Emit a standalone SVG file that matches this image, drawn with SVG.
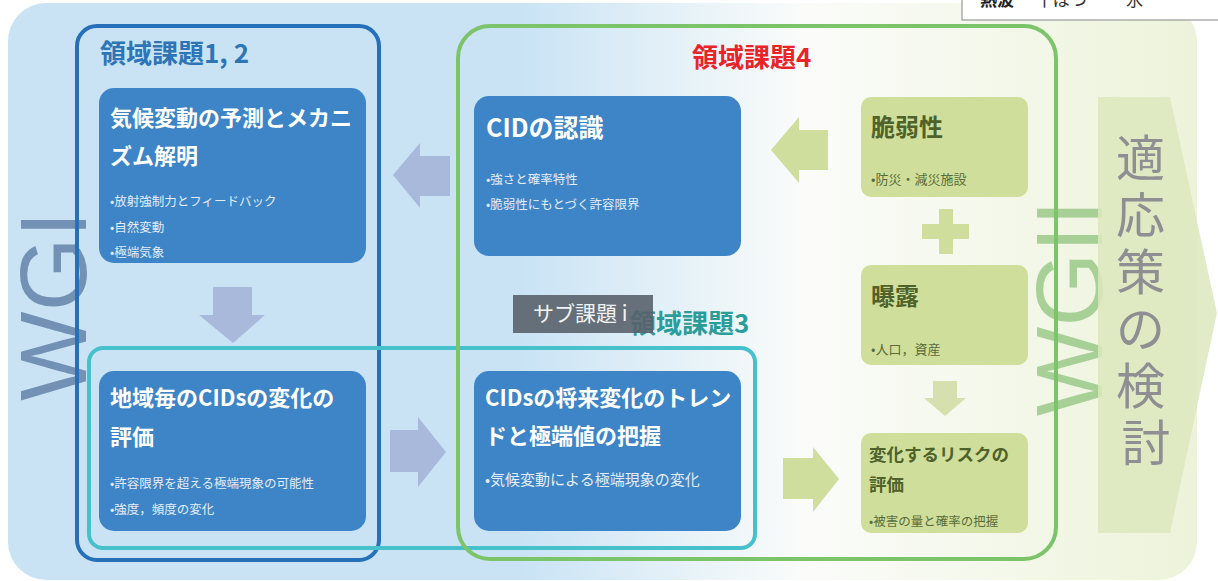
<svg xmlns="http://www.w3.org/2000/svg" width="1218" height="581" viewBox="0 0 1218 581">
<defs>
<linearGradient id="bg" x1="8" y1="0" x2="1197" y2="0" gradientUnits="userSpaceOnUse">
<stop offset="0" stop-color="#c9e3f5"/>
<stop offset="0.43" stop-color="#c9e3f5"/>
<stop offset="0.67" stop-color="#fbfcfa"/>
<stop offset="1" stop-color="#edf3da"/>
</linearGradient>
<style>
.jp{font-family:"Noto Sans CJK JP","Noto Sans",sans-serif}
.bnode{fill:#3d85c6}
.gnode{fill:#cfdf9b}
.btitle{font-family:"Noto Sans CJK JP",sans-serif;font-weight:bold;font-size:22px;fill:#ffffff}
.bbul{font-family:"Noto Sans CJK JP",sans-serif;font-size:12.5px;fill:#e4ecf7}
.gtitle{font-family:"Noto Sans CJK JP",sans-serif;font-weight:bold;fill:#4f6229}
.gbul{font-family:"Noto Sans CJK JP",sans-serif;font-size:13px;fill:#5a6b38}
.area{font-family:"Noto Sans CJK JP",sans-serif;font-weight:bold;font-size:26px}
.barrow{fill:#a9b9dc}
.garrow{fill:#cfdd9d}
</style>
</defs>

<rect x="8" y="3" width="1189" height="577" rx="38" fill="url(#bg)"/>

<g id="table-fragment">
<rect x="962" y="-10" width="270" height="30" fill="#ffffff" stroke="#9a9a9a" stroke-width="1.2"/>
<text x="980" y="6" class="jp" font-size="17" font-weight="bold" fill="#222">熱波</text>
<text x="1036" y="6" class="jp" font-size="17" fill="#333">干ばつ</text>
<text x="1126" y="6" class="jp" font-size="17" fill="#333">氷</text>
</g>

<text transform="translate(86,306) rotate(-90)" text-anchor="middle" font-family="Liberation Sans, Arial, sans-serif" font-size="95" fill="#7391b4">WGI</text>
<text transform="translate(1102,308) rotate(-90)" text-anchor="middle" font-family="Liberation Sans, Arial, sans-serif" font-size="95" fill="#8fc47d" opacity="0.75">WGII</text>

<g id="adaptation">
<polygon points="1098,97 1170,97 1217,313 1170,533 1098,533" fill="#dce8bd" opacity="0.85"/>
<text class="jp" font-size="49" fill="#8e8e93" text-anchor="middle">
<tspan x="1146" y="176">適</tspan>
<tspan x="1146" y="233">応</tspan>
<tspan x="1146" y="290">策</tspan>
<tspan x="1146" y="347">の</tspan>
<tspan x="1146" y="404">検</tspan>
<tspan x="1146" y="461">討</tspan>
</text>
</g>

<g id="area12">
<rect x="77" y="26" width="302" height="534" rx="20" fill="none" stroke="#2570b8" stroke-width="4"/>
<text x="100" y="63" class="area" fill="#2e75b6">領域課題1, 2</text>
</g>

<g id="area3">
<rect x="89" y="348" width="666" height="200" rx="14" fill="none" stroke="#46c1cc" stroke-width="4"/>
<text x="630" y="333" class="area" fill="#2a9d9a">領域課題3</text>
</g>

<g id="area4">
<rect x="458" y="26" width="598" height="533" rx="32" fill="none" stroke="#7cc46a" stroke-width="4"/>
<text x="692" y="67" class="area" fill="#e82429">領域課題4</text>
</g>

<g id="subtask">
<rect x="513" y="295" width="140" height="38" fill="#59626b" opacity="0.9"/>
<text x="533" y="321" class="jp" font-size="21" fill="#f2f2f2">サブ課題 i</text>
</g>

<g id="node-prediction">
<rect x="99" y="88" width="267" height="175" rx="15" class="bnode"/>
<text x="110" y="126" class="btitle">気候変動の予測とメカニ</text>
<text x="110" y="164" class="btitle">ズム解明</text>
<text x="110" y="206" class="bbul">•放射強制力とフィードバック</text>
<text x="110" y="232" class="bbul">•自然変動</text>
<text x="110" y="257" class="bbul">•極端気象</text>
</g>

<g id="node-regional">
<rect x="99" y="371" width="267" height="160" rx="15" class="bnode"/>
<text x="110" y="406" class="btitle">地域毎のCIDsの変化の</text>
<text x="110" y="445" class="btitle">評価</text>
<text x="110" y="488" class="bbul">•許容限界を超える極端現象の可能性</text>
<text x="110" y="514" class="bbul">•強度，頻度の変化</text>
</g>

<g id="node-cid">
<rect x="474" y="96" width="267" height="160" rx="15" class="bnode"/>
<text x="486" y="137" class="btitle" style="font-size:25px">CIDの認識</text>
<text x="486" y="184" class="bbul">•強さと確率特性</text>
<text x="486" y="209" class="bbul">•脆弱性にもとづく許容限界</text>
</g>

<g id="node-future">
<rect x="474" y="371" width="267" height="160" rx="15" class="bnode"/>
<text x="485" y="406" class="btitle">CIDsの将来変化のトレン</text>
<text x="485" y="444" class="btitle">ドと極端値の把握</text>
<text x="485" y="485" class="bbul" style="font-size:15px">•気候変動による極端現象の変化</text>
</g>

<g id="node-vulnerability">
<rect x="861" y="97" width="167" height="100" rx="10" class="gnode"/>
<text x="871" y="136" class="gtitle" font-size="24">脆弱性</text>
<text x="871" y="184" class="gbul">•防災・減災施設</text>
</g>

<g id="node-exposure">
<rect x="861" y="265" width="167" height="100" rx="10" class="gnode"/>
<text x="871" y="305" class="gtitle" font-size="24">曝露</text>
<text x="871" y="354" class="gbul">•人口，資産</text>
</g>

<g id="node-risk">
<rect x="861" y="433" width="167" height="100" rx="10" class="gnode"/>
<text x="869" y="461" class="gtitle" font-size="17.5">変化するリスクの</text>
<text x="869" y="491" class="gtitle" font-size="17.5">評価</text>
<text x="869" y="526" class="gbul" style="font-size:12.5px">•被害の量と確率の把握</text>
</g>

<g id="connectors">
<polygon class="barrow" points="213,287 252,287 252,315 265,315 233,343 199,315 213,315"/>
<polygon class="barrow" points="393,175 420,143 420,156 450,156 450,196 420,196 420,208"/>
<polygon class="barrow" points="390,430 418,430 418,417 446,452 418,487 418,472 390,472"/>
<polygon class="garrow" points="771,150 799,117 799,130 828,130 828,170 799,170 799,183"/>
<polygon class="garrow" points="783,458 813,458 813,447 839,479 813,512 813,499 783,499"/>
<path class="garrow" d="M939,209 h14 v15 h16 v15 h-16 v15 h-14 v-15 h-17 v-15 h17 z"/>
<polygon fill="#d5e0ae" points="933,381 957,381 957,398 966,398 945,416 924,398 933,398"/>
</g>
</svg>
